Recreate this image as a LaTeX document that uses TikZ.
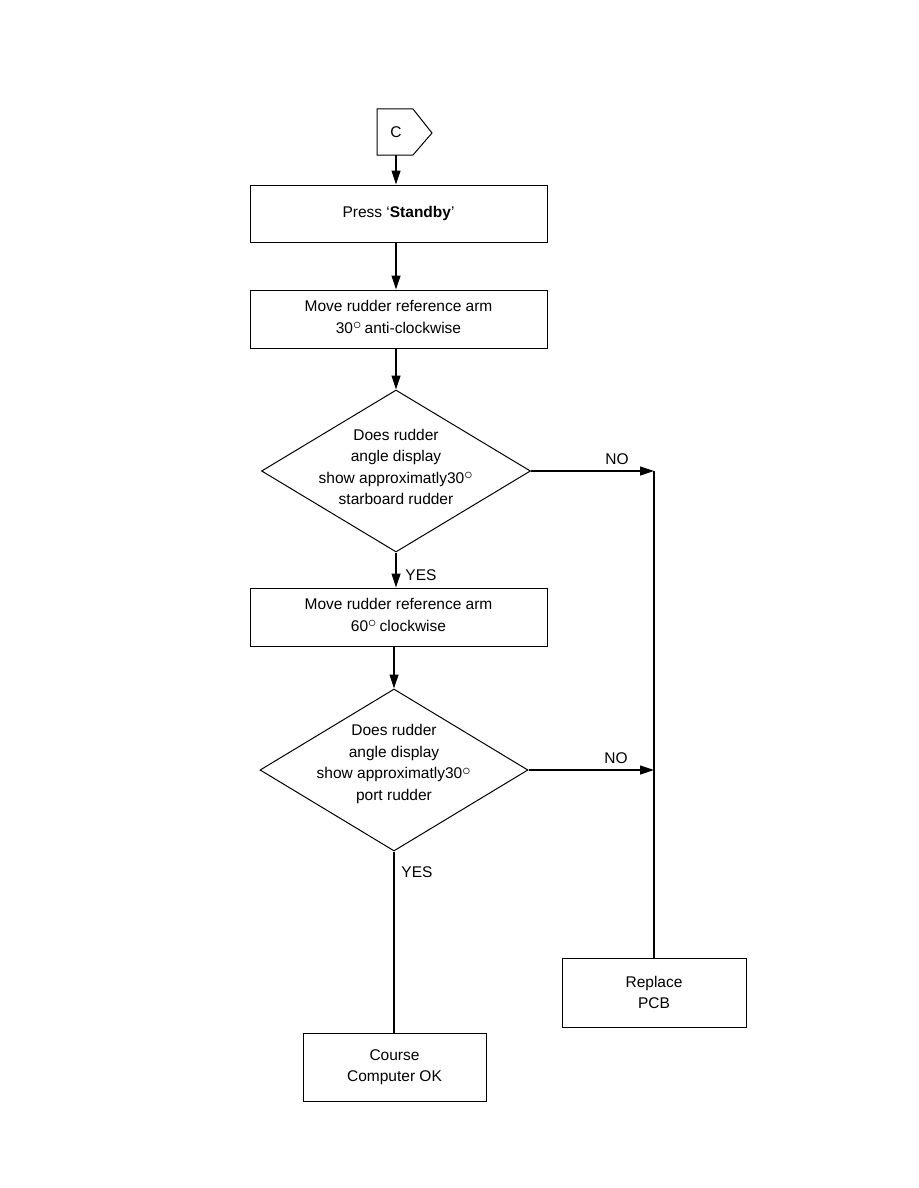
\documentclass[tikz,border=0pt]{standalone}
\usepackage{fontspec}
\setmainfont{Liberation Sans}
\usetikzlibrary{shapes.geometric,arrows.meta}
\newcommand{\dgr}{\raisebox{-0.55ex}{\scalebox{1.5}{$^{\circ}$}}}
\begin{document}
\begin{tikzpicture}[x=1pt,y=-1pt,
  every node/.style={font=\fontsize{15.5}{21.5}\selectfont},
  box/.style={draw,line width=1pt,align=center,inner sep=0pt},
  dia/.style={draw,line width=1pt,diamond,inner sep=0pt,minimum width=269pt,minimum height=162pt},
  arr/.style={line width=1.2pt,-{Triangle[length=14pt,width=9pt]}},
  ln/.style={line width=1.2pt},
  lbl/.style={font=\fontsize{15.5}{17}\selectfont}]
\useasboundingbox (0,0) rectangle (918,1188);
% connector C
\draw[line width=1pt] (377,109) -- (413,109) -- (432,133) -- (413,155) -- (377,155) -- cycle;
\node (ct) at (396,132) {C};
\coordinate (cb) at (396,155);
% boxes
\node[box,minimum width=297pt,minimum height=57pt] (b1) at (398.5,213.5) {Press `\textbf{Standby}'};
\node[box,minimum width=297pt,minimum height=58pt] (b2) at (398.5,319) {Move rudder reference arm\\30\dgr\,anti-clockwise};
\node[dia] (d1) at (396,471) {};
\node[align=center] (d1t) at (396,467) {Does rudder\\angle display\\show approximatly30\dgr\\starboard rudder};
\node[box,minimum width=297pt,minimum height=58pt] (b3) at (398.5,617) {Move rudder reference arm\\60\dgr\,clockwise};
\node[dia,minimum width=268pt] (d2) at (394,770) {};
\node[align=center] (d2t) at (394,764) {Does rudder\\angle display\\show approximatly30\dgr\\port rudder};
\node[box,minimum width=183pt,minimum height=68pt] (co) at (394.5,1067) {Course\\Computer OK};
\node[box,minimum width=184pt,minimum height=69pt] (rp) at (654,992.5) {Replace\\PCB};
% connectors
\draw[arr] (cb) -- (cb |- b1.north);
\draw[arr] (b1.south -| cb) -- (cb |- b2.north);
\draw[arr] (b2.south -| cb) -- (d1.north);
\draw[arr] (d1.south) -- (d1.south |- b3.north);
\draw[arr] (d2.north |- b3.south) -- (d2.north);
\draw[ln] (d2.south) -- (d2.south |- co.north);
\coordinate (j1) at (d1.east -| rp.north);
\coordinate (j2) at (d2.east -| rp.north);
\draw[arr] (d1.east) -- (j1);
\draw[arr] (d2.east) -- (j2);
\draw[ln] (j1) -- (rp.north);
% labels
\node[lbl] (no1) at (617,459) {NO};
\node[lbl] (yes1) at (421,575) {YES};
\node[lbl] (no2) at (616,758) {NO};
\node[lbl] (yes2) at (417,872) {YES};
\end{tikzpicture}
\end{document}
